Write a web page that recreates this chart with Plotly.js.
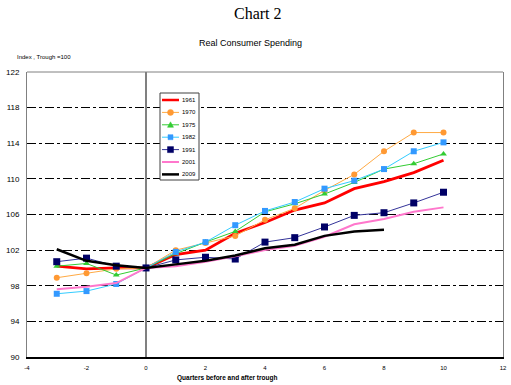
<!DOCTYPE html>
<html><head><meta charset="utf-8">
<script src="https://cdn.plot.ly/plotly-3.0.1.min.js"></script>
<style>html,body{margin:0;padding:0;background:#fff}#chart{width:511px;height:385px}</style>
</head><body><div id="chart"></div>
<script>
const quarters = [-3,-2,-1,0,1,2,3,4,5,6,7,8,9,10];
const quarters2009 = [-3,-2,-1,0,1,2,3,4,5,6,7,8];
const seriesNames = ["1961","1970","1975","1982","1991","2001","2009"];
const v1961 = [100.2,99.9,100.0,100,101.5,102.0,103.9,105.1,106.5,107.3,108.9,109.7,110.7,112.1];
const v1970 = [98.9,99.4,99.9,100,102.0,102.8,103.6,105.4,106.7,108.7,110.5,113.1,115.2,115.2];
const v1975 = [100.2,100.5,99.2,100,101.6,102.9,104.1,106.3,107.2,108.3,109.6,111.1,111.7,112.8];
const v1982 = [97.1,97.4,98.2,100,101.8,102.9,104.8,106.4,107.4,108.9,109.8,111.1,113.1,114.1];
const v1991 = [100.7,101.1,100.2,100,100.9,101.2,101.0,102.9,103.4,104.6,105.9,106.2,107.3,108.5];
const v2001 = [97.6,97.9,98.3,100,100.2,100.7,101.3,102.0,102.5,103.5,104.9,105.5,106.3,106.8];
const v2009 = [102.1,100.8,100.3,100,100.4,100.8,101.4,102.2,102.6,103.6,104.1,104.3];
const xTicks = [-4,-2,0,2,4,6,8,10,12];
const yTicks = [90,94,98,102,106,110,114,118,122];

const styles = [
  {line:{color:"#FF0000",width:2.8}, mode:"lines"},
  {line:{color:"#FFAA44",width:1}, mode:"lines+markers", marker:{symbol:"circle",size:6,color:"#FF9933"}},
  {line:{color:"#33CC33",width:1}, mode:"lines+markers", marker:{symbol:"triangle-up",size:6,color:"#33CC33"}},
  {line:{color:"#33CCFF",width:1}, mode:"lines+markers", marker:{symbol:"square",size:6,color:"#3399FF"}},
  {line:{color:"#333399",width:1}, mode:"lines+markers", marker:{symbol:"square",size:7,color:"#000066"}},
  {line:{color:"#FF77CC",width:2}, mode:"lines"},
  {line:{color:"#000000",width:2.5}, mode:"lines"}
];
const values = [v1961,v1970,v1975,v1982,v1991,v2001,v2009];
const xs = [quarters,quarters,quarters,quarters,quarters,quarters,quarters2009];

const traces = seriesNames.map((n,i)=>Object.assign({
  type:"scatter", name:n, x:xs[i], y:values[i], showlegend:false, hoverinfo:"skip"
}, styles[i]));

// custom legend (layout decoration)
const W=476, H=285, L=27, T=72;
const px=(p)=>(p-L)/W, py=(p)=>(T+H-p)/H;
const shapes = [
  {type:"line",xref:"paper",yref:"paper",x0:0,x1:1,y0:1,y1:1,line:{color:"#808080",width:1},layer:"above"},
  {type:"rect",xref:"paper",yref:"paper",x0:px(160),x1:px(199),y0:py(180),y1:py(93),
   line:{color:"#404040",width:1},fillcolor:"#ffffff",layer:"above"}
];
const annotations = [];
const legY0 = 100, legStep = 12.4;
seriesNames.forEach((n,i)=>{
  const yy = py(legY0 + i*legStep);
  const st = styles[i];
  shapes.push({type:"line",xref:"paper",yref:"paper",x0:px(162),x1:px(179),y0:yy,y1:yy,
    line:{color:st.line.color,width:Math.min(st.line.width,2.5)},layer:"above"});
  if(st.marker){
    const c = st.marker.color, s = st.marker.size/2;
    const base = {xref:"paper",yref:"paper",xsizemode:"pixel",ysizemode:"pixel",
      xanchor:px(170.5),yanchor:yy,line:{color:c,width:0.5},fillcolor:c,layer:"above"};
    if(st.marker.symbol==="circle") shapes.push(Object.assign({type:"circle",x0:-s,x1:s,y0:-s,y1:s},base));
    else if(st.marker.symbol==="square") shapes.push(Object.assign({type:"rect",x0:-s+0.5,x1:s-0.5,y0:-s+0.5,y1:s-0.5},base));
    else shapes.push(Object.assign({type:"path",path:`M ${-s} ${-s+0.5} L ${s} ${-s+0.5} L 0 ${s} Z`},base));
  }
  annotations.push({xref:"paper",yref:"paper",x:px(180),y:yy,xanchor:"left",yanchor:"middle",
    text:n,showarrow:false,font:{family:"Liberation Sans, Arial",size:6,color:"#000"}});
});

annotations.push({xref:"paper",yref:"paper",x:px(258),y:py(13),xanchor:"center",yanchor:"middle",
  text:"Chart 2",showarrow:false,font:{family:"Liberation Serif, Times New Roman",size:16,color:"#000"}});
annotations.push({xref:"paper",yref:"paper",x:px(250),y:py(43),xanchor:"center",yanchor:"middle",
  text:"Real Consumer Spending",showarrow:false,font:{family:"Liberation Sans, Arial",size:9,color:"#000"}});
annotations.push({xref:"paper",yref:"paper",x:px(15),y:py(57),xanchor:"left",yanchor:"middle",
  text:"Index , Trough =100",showarrow:false,font:{family:"Liberation Sans, Arial",size:6,color:"#000"}});
annotations.push({xref:"paper",yref:"paper",x:px(227),y:py(378),xanchor:"center",yanchor:"middle",
  text:"<b>Quarters before and after trough</b>",showarrow:false,font:{family:"Liberation Sans, Arial",size:6.5,color:"#000"}});

const layout = {
  width:511, height:385, margin:{l:27,r:8,t:72,b:28},
  paper_bgcolor:"#fff", plot_bgcolor:"#fff", showlegend:false,
  xaxis:{range:[-4,12], tickvals:xTicks, ticktext:xTicks.map(String), showgrid:false,
    zeroline:true, zerolinecolor:"#808080", zerolinewidth:2,
    showline:true, linecolor:"#000", linewidth:2, mirror:false, ticks:"", ticklabelstandoff:4,
    tickfont:{family:"Liberation Sans, Arial",size:6,color:"#000"}},
  yaxis:{range:[90,122], tickvals:yTicks, ticktext:yTicks.map(String), showgrid:true,
    gridcolor:"#000", gridwidth:1, griddash:"dashdot", zeroline:false,
    showline:true, linecolor:"#808080", linewidth:1, mirror:true, ticks:"", ticklabelstandoff:5,
    tickfont:{family:"Liberation Sans, Arial",size:8,color:"#000"}},
  shapes:shapes, annotations:annotations
};
Plotly.newPlot("chart", traces, layout, {staticPlot:true, displayModeBar:false});
</script></body></html>
